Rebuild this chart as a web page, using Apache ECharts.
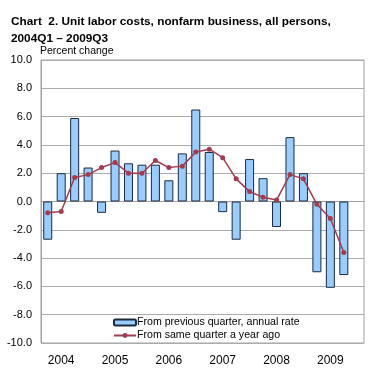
<!DOCTYPE html>
<html><head><meta charset="utf-8">
<script src="https://cdn.jsdelivr.net/npm/echarts@6/dist/echarts.min.js"></script>
<style>html,body{margin:0;padding:0;background:#fff}#c{width:369px;height:375px}</style>
</head><body><div id="c"></div>
<script>
const categories = ["2004Q1","2004Q2","2004Q3","2004Q4","2005Q1","2005Q2","2005Q3","2005Q4","2006Q1","2006Q2","2006Q3","2006Q4","2007Q1","2007Q2","2007Q3","2007Q4","2008Q1","2008Q2","2008Q3","2008Q4","2009Q1","2009Q2","2009Q3","2009Q4"];
const prevQuarter = [-2.7,2.0,5.9,2.4,-0.8,3.6,2.7,2.6,2.6,1.5,3.4,6.5,3.5,-0.75,-2.7,3.0,1.65,-1.8,4.55,2.0,-5.0,-6.1,-5.2,null];
const yearAgo = [-0.8,-0.7,1.7,1.9,2.4,2.75,2.0,2.0,2.9,2.4,2.5,3.5,3.7,3.1,1.6,0.7,0.3,0.1,1.9,1.6,-0.2,-1.2,-3.6,null];
const yearLabels = {"2004Q2":"2004","2005Q2":"2005","2006Q2":"2006","2007Q2":"2007","2008Q2":"2008","2009Q2":"2009"};
const seriesNames = ["From previous quarter, annual rate","From same quarter a year ago"];

const chart = echarts.init(document.getElementById('c'), null, {renderer:'canvas'});
const font = "'Liberation Sans', Arial, sans-serif";
chart.setOption({
  animation:false,
  textStyle:{fontFamily:font},
  title:{
    text:"Chart  2. Unit labor costs, nonfarm business, all persons,\n2004Q1 \u2013 2009Q3",
    left:6, top:8,
    textStyle:{fontFamily:font, fontSize:11.8, fontWeight:'bold', color:'#000', lineHeight:17}
  },
  graphic:[{type:'text', left:40, top:46, style:{text:'Percent change', fontFamily:font, fontSize:10.5, fill:'#000'}}],
  grid:{left:41, right:5, top:60, bottom:32, show:true, borderColor:'#A0A0A0', borderWidth:1},
  legend:{
    orient:'vertical', left:108, top:312, itemGap:2, itemWidth:22, itemHeight:6,
    textStyle:{fontFamily:font, fontSize:10.6, color:'#000', padding:[0,0,0,-4], height:11, lineHeight:11},
    data:seriesNames
  },
  xAxis:{
    type:'category', data:categories, boundaryGap:true,
    axisLine:{lineStyle:{color:'#A0A0A0'}}, axisTick:{show:false},
    axisLabel:{interval:0, margin:12, fontSize:12, color:'#000', formatter:v=>yearLabels[v]||''}
  },
  yAxis:{
    type:'value', min:-10, max:10, interval:2,
    axisLine:{show:true, lineStyle:{color:'#A0A0A0'}}, axisTick:{show:false},
    splitLine:{lineStyle:{color:'#ABABAB', width:1}},
    axisLabel:{fontSize:11, color:'#000', margin:9, formatter:v=>v.toFixed(1)}
  },
  series:[
    {name:seriesNames[0], type:'bar', data:prevQuarter, barWidth:9,
     itemStyle:{color:'#99CCFF', borderColor:'#1A2A40', borderWidth:1}},
    {name:seriesNames[1], type:'line', data:yearAgo, symbol:'circle', symbolSize:5,
     lineStyle:{color:'#A33A50', width:1.5}, itemStyle:{color:'#A33A50'}}
  ]
});
</script></body></html>
